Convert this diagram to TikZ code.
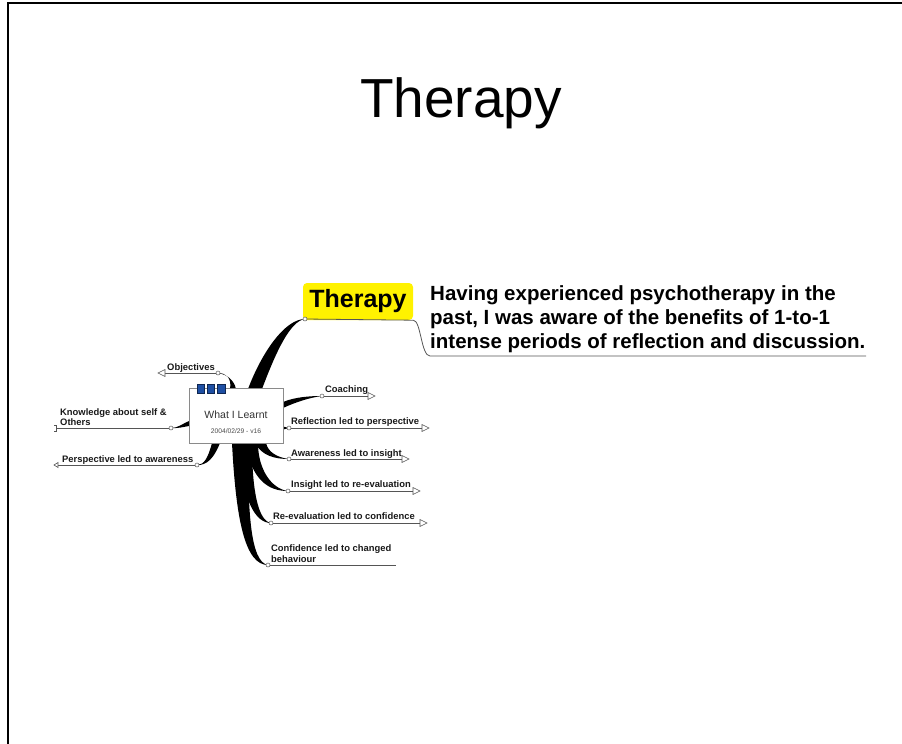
\documentclass[tikz,border=0pt]{standalone}
\usepackage{fontspec}
\setmainfont{Liberation Sans}
\definecolor{linegray}{HTML}{555555}
\definecolor{boxblue}{HTML}{1E4FA3}
\definecolor{boxedge}{HTML}{8A8A8A}
\begin{document}
\begin{tikzpicture}[x=1pt,y=-1pt,
  lbl/.style={font=\bfseries\fontsize{9.4}{10.5}\selectfont, inner sep=0pt, anchor=base west, text=black!90},
  para/.style={font=\bfseries\fontsize{20.5}{24}\selectfont, inner sep=0pt, anchor=base west},
  uline/.style={draw=linegray, line width=0.8pt},
  knob/.style={circle, draw=linegray, fill=white, line width=0.5pt, inner sep=0pt, minimum size=4pt},
  tip/.style={draw=linegray, fill=white, line width=0.6pt, line join=miter},
  branch/.style={fill=black},
  flag/.style={draw=boxblue!50!black, fill=boxblue, line width=0.4pt, minimum width=7.5pt, minimum height=9pt, inner sep=0pt},
]
\useasboundingbox (0,0) rectangle (902,744);
% slide frame
\draw[line width=2pt] (8,744) -- (8,3) -- (902,3);

% slide title
\node[font=\fontsize{55}{60}\selectfont, anchor=base, inner sep=0pt] (title) at (461,117) {Therapy};

% attachment points of the branches
\coordinate (kTherapy) at (305,319);
\coordinate (kObj) at (218,373);
\coordinate (kCoach) at (322,396);
\coordinate (kRefl) at (289,428);
\coordinate (kAware) at (289,459);
\coordinate (kInsight) at (288,491);
\coordinate (kReeval) at (271,523);
\coordinate (kConf) at (268,565);
\coordinate (kKnow) at (171,428);
\coordinate (kPersp) at (197,465);

% tapered branches
\fill[branch] (248,389) .. controls (262,352) and (285,319) .. (kTherapy)
  .. controls (290,321) and (276,352) .. (262,389) -- cycle;
\fill[branch] (230,389) .. controls (232,378) and (226,373) .. (kObj)
  .. controls (227,374.5) and (234,380) .. (236,389) -- cycle;
\fill[branch] (283,402) .. controls (295,397) and (310,396) .. (kCoach)
  .. controls (310,397.5) and (296,402) .. (283,408) -- cycle;
\fill[branch] (283,426.5) -- (kRefl) -- (283,429.5) -- cycle;
\fill[branch] (189,421) .. controls (182,424) and (178,428) .. (kKnow)
  .. controls (178,428.5) and (183,427) .. (189,426) -- cycle;
\fill[branch] (212,443) .. controls (208,458) and (204,465) .. (kPersp)
  .. controls (207,465.5) and (214,458) .. (220,443) -- cycle;
\fill[branch] (232,443) .. controls (236,520) and (245,565) .. (kConf)
  .. controls (250,562) and (248,510) .. (248,443) -- cycle;
\fill[branch] (238,443) .. controls (242,500) and (255,523) .. (kReeval)
  .. controls (258,521) and (252,490) .. (252,443) -- cycle;
\fill[branch] (245,443) .. controls (252,480) and (268,491) .. (kInsight)
  .. controls (272,489) and (258,470) .. (258,443) -- cycle;
\fill[branch] (255,443) .. controls (262,456) and (275,459) .. (kAware)
  .. controls (277,457.5) and (268,452) .. (266,443) -- cycle;

% central topic
\node[draw=boxedge, fill=white, line width=0.8pt, minimum width=94pt, minimum height=55pt, inner sep=0pt] (main) at (236,415.5) {};
\node[font=\fontsize{10.5}{12}\selectfont, text=black!80, inner sep=0pt] (mainname) at (236,414.5) {What I Learnt};
\node[font=\fontsize{6.7}{8}\selectfont, text=black!70, inner sep=0pt] (mainver) at (236,431) {2004/02/29 - v16};
\node[flag] (f1) at (200.5,388.5) {};
\node[flag] (f2) at (210.5,388.5) {};
\node[flag] (f3) at (221,388.5) {};

% main subtopic with note
\node[fill=yellow, rounded corners=4pt, minimum width=110pt, minimum height=37pt, inner sep=0pt,
  font=\bfseries\fontsize{25}{27}\selectfont] (topic) at (358,301.5) {Therapy};
\draw[uline] (kTherapy) -- (topic.south east) .. controls (421,320) and (421,356) .. (430,356) coordinate (nstart) -- (866,356) coordinate (nend);
\node[knob] at (kTherapy) {};
\node[para] (p1) at (430,300) {Having experienced psychotherapy in the};
\node[para] (p2) at (430,324) {past, I was aware of the benefits of 1-to-1};
\node[para] (p3) at (430,348) {intense periods of reflection and discussion.};

% right-hand subtopics
\node[lbl] (lCoach) at (325,392) {Coaching};
\draw[uline] (kCoach) -- (368,396) coordinate (tCoach);
\draw[tip] (tCoach) ++(0,-3.5) -- ++(7,3.5) -- ++(-7,3.5) -- cycle;
\node[knob] at (kCoach) {};

\node[lbl] (lRefl) at (291,424) {Reflection led to perspective};
\draw[uline] (kRefl) -- (422,428) coordinate (tRefl);
\draw[tip] (tRefl) ++(0,-3.5) -- ++(7,3.5) -- ++(-7,3.5) -- cycle;
\node[knob] at (kRefl) {};

\node[lbl] (lAware) at (291,456) {Awareness led to insight};
\draw[uline] (kAware) -- (402,459) coordinate (tAware);
\draw[tip] (tAware) ++(0,-3.5) -- ++(7,3.5) -- ++(-7,3.5) -- cycle;
\node[knob] at (kAware) {};

\node[lbl] (lInsight) at (291,487) {Insight led to re-evaluation};
\draw[uline] (kInsight) -- (413,491) coordinate (tInsight);
\draw[tip] (tInsight) ++(0,-3.5) -- ++(7,3.5) -- ++(-7,3.5) -- cycle;
\node[knob] at (kInsight) {};

\node[lbl] (lReeval) at (273,519) {Re-evaluation led to confidence};
\draw[uline] (kReeval) -- (420,523) coordinate (tReeval);
\draw[tip] (tReeval) ++(0,-3.5) -- ++(7,3.5) -- ++(-7,3.5) -- cycle;
\node[knob] at (kReeval) {};

\node[lbl] (lConf1) at (271,551) {Confidence led to changed};
\node[lbl] (lConf2) at (271,562) {behaviour};
\draw[uline] (kConf) -- (396,565);
\node[knob] at (kConf) {};

% left-hand subtopics
\node[lbl] (lObj) at (167,370) {Objectives};
\draw[uline] (kObj) -- (165,373) coordinate (tObj);
\draw[tip] (tObj) ++(0,-3.5) -- ++(-7,3.5) -- ++(7,3.5) -- cycle;
\node[knob] at (kObj) {};

\node[lbl] (lKnow1) at (60,415) {Knowledge about self \&};
\node[lbl] (lKnow2) at (60,425) {Others};
\draw[uline] (kKnow) -- (56,428) coordinate (tKnow);
\draw[uline] (54,425) -- (56,425) -- (56,431) -- (54,431);
\node[knob] at (kKnow) {};

\node[lbl] (lPersp) at (62,462) {Perspective led to awareness};
\draw[uline] (kPersp) -- (58,465) coordinate (tPersp);
\draw[tip] (tPersp) ++(0,-2.5) -- ++(-4,2.5) -- ++(4,2.5) -- cycle;
\node[knob] at (kPersp) {};
\end{tikzpicture}
\end{document}
